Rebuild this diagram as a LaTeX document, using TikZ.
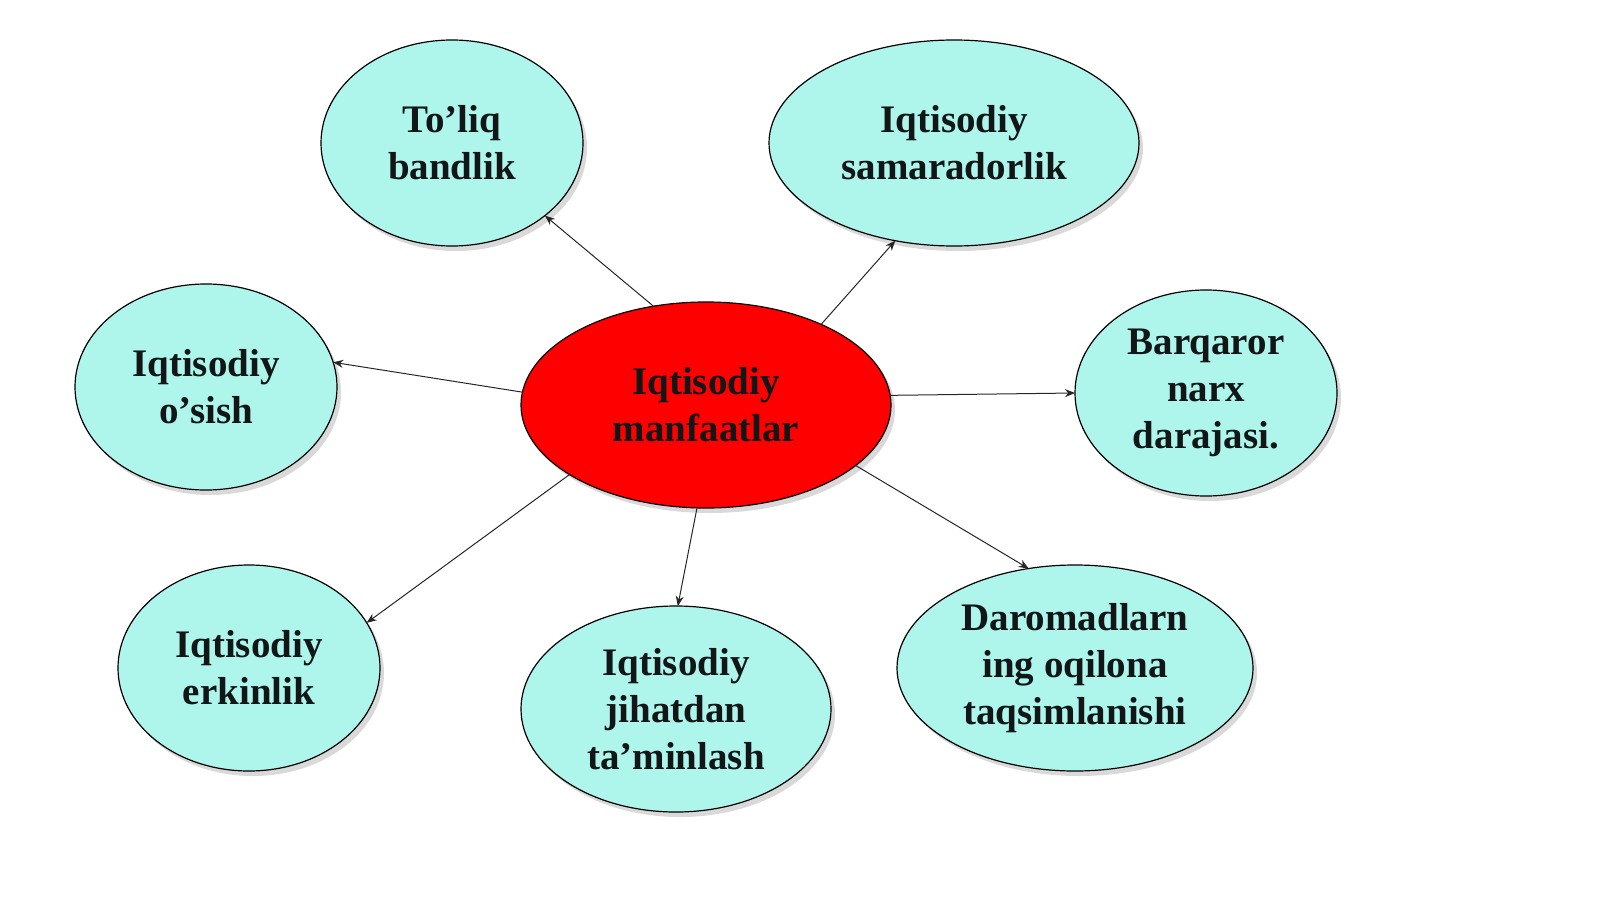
\documentclass[tikz,border=0pt]{standalone}
\usepackage{fontspec}
\setmainfont{Liberation Serif}
\usetikzlibrary{shapes.geometric,shadows,arrows.meta}
\definecolor{bubble}{RGB}{174,245,236}
\definecolor{txt}{RGB}{18,22,22}
\tikzset{
  bub/.style={ellipse, draw=black, line width=0.6pt, fill=bubble, inner sep=0pt, outer sep=0pt,
    minimum height=103pt, align=center, text=txt,
    font=\fontsize{19.5}{23.5}\selectfont\bfseries,
    drop shadow={shadow xshift=2pt, shadow yshift=-2.5pt, opacity=0.3, fill=gray}},
  hub/.style={bub, fill=red},
  link/.style={draw=black!85, line width=0.5pt, -{Stealth[length=5pt,width=4pt]}}
}
\begin{document}
\begin{tikzpicture}[x=0.5pt,y=-0.5pt]
\useasboundingbox (0,0) rectangle (1600,899);
\node[hub, minimum width=185pt] (c) at (706,405) {Iqtisodiy\\manfaatlar};
\node[bub, minimum width=131pt] (t) at (452,143) {To’liq\\bandlik};
\node[bub, minimum width=185pt] (s) at (954,143) {Iqtisodiy\\samaradorlik};
\node[bub, minimum width=131pt] (o) at (206,387) {Iqtisodiy\\o’sish};
\node[bub, minimum width=131pt] (b) at (1206,393) {Barqaror\\narx\\darajasi.};
\node[bub, minimum width=131pt] (e) at (249,668) {Iqtisodiy\\erkinlik};
\node[bub, minimum width=155pt] (j) at (676,709) {Iqtisodiy\\jihatdan\\ta’minlash};
\node[bub, minimum width=178pt] (d) at (1075,668) {Daromadlarn\\ing oqilona\\taqsimlanishi};
\draw[link] (c.118.5) -- (t.322);
\draw[link] (c.35) -- (s.239);
\draw[link] (c.176.3) -- (o.11.4);
\draw[link] (c.3.7) -- (b.180);
\draw[link] (c.207.7) -- (e.21.2);
\draw[link] (c.265.6) -- (j.89);
\draw[link] (c.338) -- (d.115.9);
\end{tikzpicture}
\end{document}
